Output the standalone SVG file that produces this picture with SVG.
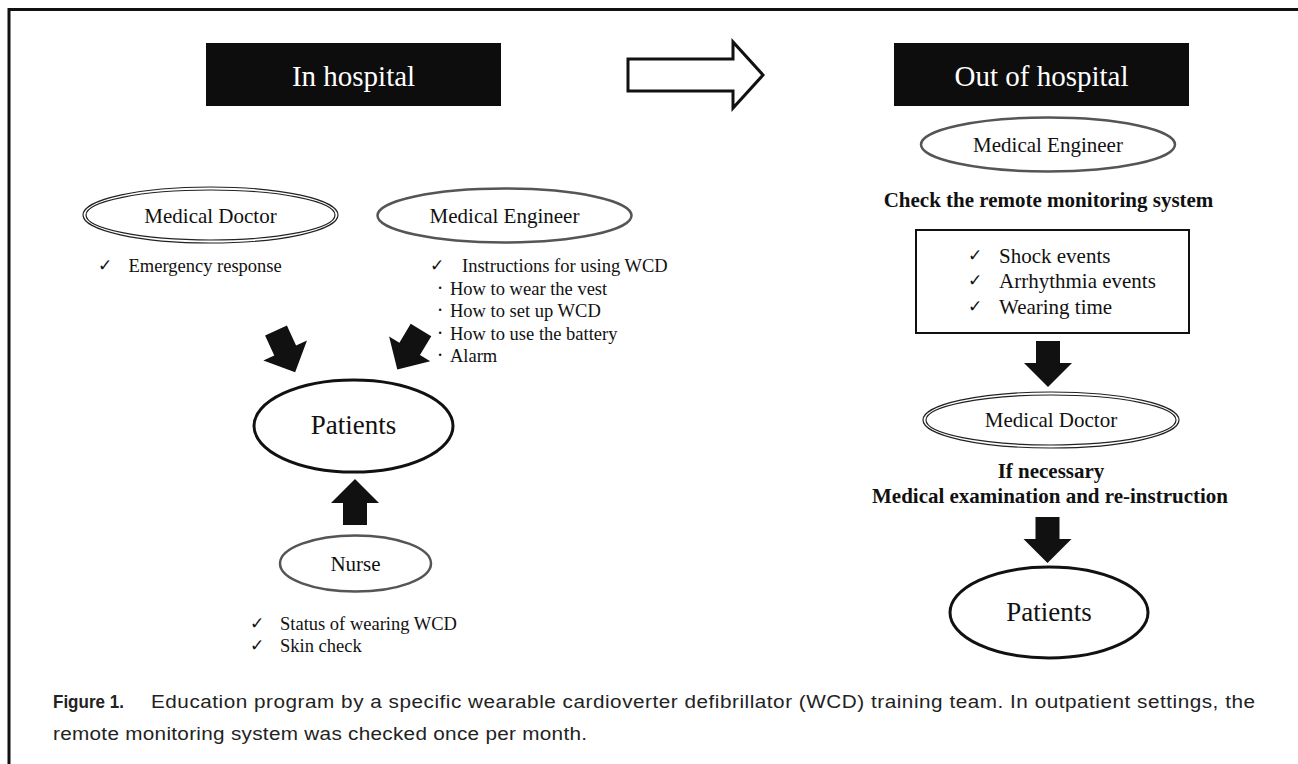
<svg xmlns="http://www.w3.org/2000/svg" width="1298" height="764" viewBox="0 0 1298 764">
<style>
  .serif { font-family: "Liberation Serif", "Times New Roman", serif; fill: #111; }
  .node { font-size: 21px; text-anchor: middle; }
  .list { font-size: 18.5px; }
  .box { font-size: 21px; }
  .bold { font-weight: bold; font-size: 21px; text-anchor: middle; }
  .check { font-family: "DejaVu Sans", sans-serif; font-size: 17px; fill: #111; }
  .dot { font-family: "Liberation Serif", serif; font-size: 20px; fill: #111; text-anchor: middle; }
  .title { font-family: "Liberation Serif", "Times New Roman", serif; font-size: 29px; fill: #fff; text-anchor: middle; }
  .cap { font-family: "Liberation Sans", Arial, sans-serif; font-size: 18.5px; fill: #222; }
  .gray { fill: none; stroke: #555; stroke-width: 2.5; }
  .dbl { fill: none; stroke: #222; stroke-width: 1.2; }
  .thick { fill: none; stroke: #111; stroke-width: 3; }
  .fat { fill: #111; }
</style>
<defs>
  <path id="fatArrow" d="M-12,0 H12 V22 H24 L0,46 L-24,22 H-12 Z"/>
</defs>
<rect width="1298" height="764" fill="#fff"/>
<!-- frame -->
<path d="M9,764 V9.5 H1298" fill="none" stroke="#111" stroke-width="3"/>

<!-- headers -->
<g id="in-hospital">
  <rect x="206" y="43" width="295" height="63" fill="#0d0d0d"/>
  <text class="title" x="353.5" y="86">In hospital</text>
</g>
<g id="transition-arrow">
  <polygon points="628,59 733,59 733,42 763,75 733,108 733,91 628,91" fill="#fff" stroke="#111" stroke-width="3" stroke-linejoin="miter"/>
</g>
<g id="out-of-hospital">
  <rect x="894" y="43" width="295" height="63" fill="#0d0d0d"/>
  <text class="title" x="1041.5" y="86">Out of hospital</text>
</g>

<!-- In hospital nodes -->
<g id="doctor-in">
  <ellipse class="dbl" cx="210.5" cy="215" rx="127.5" ry="28"/>
  <ellipse class="dbl" cx="210.5" cy="215" rx="124.5" ry="25"/>
  <text class="serif node" x="210.5" y="223">Medical Doctor</text>
  <text class="check" x="98" y="271">✓</text>
  <text class="serif list" x="128.5" y="272">Emergency response</text>
</g>
<g id="engineer-in">
  <ellipse class="gray" cx="504.5" cy="215.5" rx="127" ry="27"/>
  <text class="serif node" x="504.5" y="223">Medical Engineer</text>
  <text class="check" x="430" y="271">✓</text>
  <text class="serif list" x="462" y="272">Instructions for using WCD</text>
  <text class="dot" x="440" y="295">·</text>
  <text class="serif list" x="450" y="295">How to wear the vest</text>
  <text class="dot" x="440" y="317">·</text>
  <text class="serif list" x="450" y="317">How to set up WCD</text>
  <text class="dot" x="440" y="340">·</text>
  <text class="serif list" x="450" y="340">How to use the battery</text>
  <text class="dot" x="440" y="362">·</text>
  <text class="serif list" x="450" y="362">Alarm</text>
</g>
<g id="patients-in">
  <ellipse class="thick" cx="353.5" cy="426" rx="99.5" ry="46"/>
  <text class="serif" x="353.5" y="434" font-size="27" text-anchor="middle">Patients</text>
</g>
<g id="nurse">
  <ellipse class="gray" cx="355.5" cy="563.5" rx="75.5" ry="28"/>
  <text class="serif node" x="355.5" y="571">Nurse</text>
  <text class="check" x="250" y="629">✓</text>
  <text class="serif list" x="280" y="630">Status of wearing WCD</text>
  <text class="check" x="250" y="651">✓</text>
  <text class="serif list" x="280" y="652">Skin check</text>
</g>

<!-- Out of hospital nodes -->
<g id="engineer-out">
  <ellipse class="gray" cx="1048" cy="144.5" rx="127" ry="27"/>
  <text class="serif node" x="1048" y="152">Medical Engineer</text>
</g>
<g id="check-label">
  <text class="serif bold" x="1048.5" y="207">Check the remote monitoring system</text>
</g>
<g id="monitor-box">
  <rect x="916" y="230" width="273" height="103" fill="#fff" stroke="#111" stroke-width="2"/>
  <text class="check" x="968" y="261">✓</text>
  <text class="serif box" x="999" y="263">Shock events</text>
  <text class="check" x="968" y="286">✓</text>
  <text class="serif box" x="999" y="288">Arrhythmia events</text>
  <text class="check" x="968" y="312">✓</text>
  <text class="serif box" x="999" y="314">Wearing time</text>
</g>
<g id="doctor-out">
  <ellipse class="dbl" cx="1051" cy="420" rx="128" ry="28"/>
  <ellipse class="dbl" cx="1051" cy="420" rx="125" ry="25"/>
  <text class="serif node" x="1051" y="427">Medical Doctor</text>
</g>
<g id="doctor-label">
  <text class="serif bold" x="1051" y="478">If necessary</text>
  <text class="serif bold" x="1050" y="503">Medical examination and re-instruction</text>
</g>
<g id="patients-out">
  <ellipse class="thick" cx="1049" cy="612.5" rx="99" ry="45.5"/>
  <text class="serif" x="1049" y="621" font-size="27" text-anchor="middle">Patients</text>
</g>

<!-- connectors -->
<g id="connectors" class="fat">
  <use href="#fatArrow" transform="translate(276,330.5) rotate(-24.6)"/>
  <use href="#fatArrow" transform="translate(421,330) rotate(31)"/>
  <use href="#fatArrow" transform="translate(355,525) rotate(180)"/>
  <use href="#fatArrow" transform="translate(1048,341)"/>
  <use href="#fatArrow" transform="translate(1047.5,517)"/>
</g>

<!-- caption -->
<g id="caption">
  <text class="cap" x="53" y="708" font-weight="bold" font-size="20" transform="translate(53,0) scale(0.92,1) translate(-53,0)">Figure 1.</text>
  <g transform="translate(151,0) scale(1.12,1) translate(-151,0)">
    <text class="cap" x="151" y="708" textLength="985.7" lengthAdjust="spacing">Education program by a specific wearable cardioverter defibrillator (WCD) training team. In outpatient settings, the</text>
  </g>
  <g transform="translate(53,0) scale(1.12,1) translate(-53,0)">
    <text class="cap" x="53" y="740" textLength="476.8" lengthAdjust="spacing">remote monitoring system was checked once per month.</text>
  </g>
</g>
</svg>
